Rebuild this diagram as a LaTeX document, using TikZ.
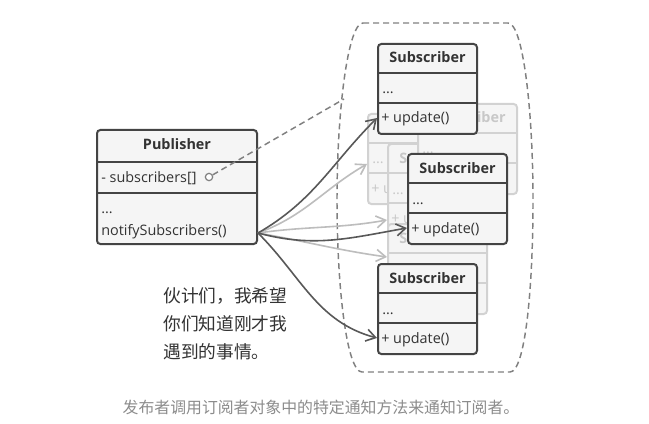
\documentclass[tikz,border=0pt]{standalone}
\usepackage{fontspec}
\setmainfont{Open Sans}
\newfontfamily\cjk{Noto Sans CJK SC}
\usetikzlibrary{calc,arrows.meta}
\definecolor{dkc}{HTML}{444444}
\definecolor{ltc}{HTML}{D2D2D2}
\definecolor{boxfill}{HTML}{F5F5F5}
\definecolor{dktext}{HTML}{333333}
\definecolor{lttext}{HTML}{C8C8C8}
\definecolor{darrc}{HTML}{585858}
\definecolor{larrc}{HTML}{BDBDBD}
\definecolor{dashc}{HTML}{808080}
\definecolor{capc}{HTML}{8C8C8C}
\newcommand{\umlsub}[4]{%
  \node[#4box, anchor=north west] (#1) at (#2,#3) {};
  \draw[#4line] ($(#1.north west)+(0,30)$) -- ($(#1.north east)+(0,30)$);
  \draw[#4line] ($(#1.north west)+(0,60)$) -- ($(#1.north east)+(0,60)$);
  \node[#4txt, anchor=base] (#1-t) at ($(#1.north)+(0,20)$) {\bfseries Subscriber};
  \node[#4txt, anchor=base west] (#1-a) at ($(#1.north west)+(5,51)$) {...};
  \node[#4txt, anchor=base west] (#1-b) at ($(#1.north west)+(4,80)$) {+ update()};
}
\begin{document}
\begin{tikzpicture}[x=0.75pt,y=-0.75pt,
  dkbox/.style={draw=dkc, fill=boxfill, line width=1.5pt, rounded corners=2.5pt, inner sep=0pt, minimum width=74.25pt, minimum height=67.5pt},
  ltbox/.style={draw=ltc, fill=boxfill, line width=1.5pt, rounded corners=2.5pt, inner sep=0pt, minimum width=74.25pt, minimum height=67.5pt},
  dkline/.style={draw=dkc, line width=1.5pt},
  ltline/.style={draw=ltc, line width=1.5pt},
  dktxt/.style={text=dktext, inner sep=0pt, font=\fontsize{10.8}{12}\selectfont},
  lttxt/.style={text=lttext, inner sep=0pt, font=\fontsize{10.8}{12}\selectfont},
  darr/.style={draw=darrc, line width=1.2pt, -{Straight Barb[length=7pt,width=9pt]}},
  larr/.style={draw=larrc, line width=1.2pt, -{Straight Barb[length=7pt,width=9pt]}},
  contour/.style={draw=dashc, line width=1.1pt, dash pattern=on 4.5pt off 3pt},
  dashlink/.style={draw=dashc, line width=1.1pt, dash pattern=on 4.5pt off 3pt}
]
\useasboundingbox (0,0) rectangle (649,424);
\fill[white] (0,0) rectangle (649,424);

% container
\draw[contour] (363,23) -- (508,23) .. controls (523,23) and (533,110) .. (533,200)
  .. controls (533,290) and (525,372) .. (510,372) -- (362,372)
  .. controls (347,372) and (337,290) .. (337,200)
  .. controls (337,110) and (348,23) .. (363,23) -- cycle;

% gray stacked subscribers
\umlsub{g2}{367}{113}{lt}
\umlsub{g3}{387}{143}{lt}
\umlsub{g4}{387}{223}{lt}
\umlsub{g1}{417}{103}{lt}

% publisher
\node[dkbox, anchor=north west, minimum width=120pt, minimum height=85.5pt] (pub) at (96,129) {};
\draw[dkline] ($(pub.north west)+(0,33)$) -- ($(pub.north east)+(0,33)$);
\draw[dkline] ($(pub.north west)+(0,64)$) -- ($(pub.north east)+(0,64)$);
\node[dktxt, anchor=base] (pub-t) at ($(pub.north)+(0,21)$) {\bfseries Publisher};
\node[dktxt, anchor=base west] (pub-a) at ($(pub.north west)+(5,53)$) {- subscribers[]};
\node[dktxt, anchor=base west] (pub-b) at ($(pub.north west)+(5,84)$) {...};
\node[dktxt, anchor=base west] (pub-c) at ($(pub.north west)+(5,106)$) {notifySubscribers()};
\node[circle, draw=dashc, fill=white, line width=0.9pt, minimum size=5.5pt, inner sep=0pt] (circ) at (209,177) {};
\coordinate (cont) at (344,99);
\draw[dashlink] (circ) -- (cont);

\coordinate (src) at ($(pub.north east)+(0,104)$);

% gray arrows
\draw[larr] (src) to[out=20,in=210] ($(g2.north west)+(0,51)$);
\draw[larr] (src) to[out=8,in=190] ($(g3.north west)+(0,77)$);
\draw[larr] (src) to[out=-10,in=172] ($(g4.north west)+(0,34)$);

% black subscribers
\umlsub{s1}{377}{43}{dk}
\umlsub{s2}{407}{153}{dk}
\umlsub{s3}{377}{263}{dk}

% dark arrows
\draw[darr] (src) to[out=30,in=225] ($(s1.north west)+(0,75)$);
\draw[darr] (src) to[out=-15,in=190] ($(s2.north west)+(0,75)$);
\draw[darr] (src) to[out=-45,in=165] ($(s3.north west)+(0,75)$);

% texts
\node[anchor=north west, align=left, inner sep=0pt, text=dktext, font=\cjk\fontsize{13.3}{21}\selectfont] (msg) at (163,287) {伙计们，我希望\\你们知道刚才我\\遇到的事情。};
\node[inner sep=0pt, text=capc, font=\cjk\fontsize{11.9}{14}\selectfont] (cap) at (321,407) {发布者调用订阅者对象中的特定通知方法来通知订阅者。};
\end{tikzpicture}
\end{document}
